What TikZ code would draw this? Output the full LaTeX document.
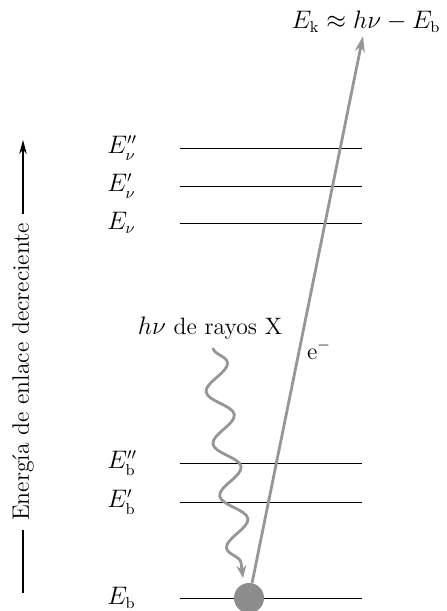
\documentclass[tikz,border=0pt]{standalone}
\usetikzlibrary{arrows.meta,decorations.pathmorphing}
\definecolor{raygray}{RGB}{150,150,150}
\definecolor{coregray}{RGB}{140,140,140}
\begin{document}
\begin{tikzpicture}[x=0.02cm, y=-0.02cm, font=\fontsize{13.5}{16}\selectfont,
  level/.style={line width=0.55pt},
  ray/.style={draw=raygray, line width=1.6pt},
  lbl/.style={anchor=west, inner sep=0pt}]
  \useasboundingbox (0,0) rectangle (446,611);
  % Energy levels
  \foreach \name/\y/\txt in {vpp/148/E''_{\nu}, vp/186/E'_{\nu}, v/223/E_{\nu},
      bpp/463/E''_{\mathrm{b}}, bp/502/E'_{\mathrm{b}}, b/598/E_{\mathrm{b}}} {
    \node[lbl] (E\name) at (107,\y) {$\txt$};
    \coordinate (L\name) at (180,\y);
    \coordinate (R\name) at (362,\y);
    \draw[level] (L\name) -- (R\name);
  }
  % Core electron and photoelectron
  \node[circle, fill=coregray, minimum size=0.6cm, inner sep=0pt] (core) at (249,598) {};
  \node (ek) at (366,22) {$E_{\mathrm{k}} \approx h\nu - E_{\mathrm{b}}$};
  \coordinate (tip) at (363,36);
  \draw[ray, -{Stealth[length=0.32cm, width=0.2cm]}] (core) -- (tip);
  \node (elec) at (319,350) {e$^-$};
  % X-ray photon
  \node (hv) at (210,328) {$h\nu$ de rayos X};
  \coordinate (xs) at (213,348);
  \coordinate (xe) at (243,578);
  \draw[ray, decorate, decoration={snake, segment length=1.05cm, amplitude=0.25cm, post length=0.3cm},
    -{Stealth[length=0.25cm, width=0.2cm]}] (xs) -- (xe);
  % Energy axis
  \node[rotate=90, inner sep=5pt] (axis) at (23,372) {Energía de enlace decreciente};
  \coordinate (abot) at (23,593);
  \coordinate (atop) at (23,140);
  \draw[line width=0.6pt] (abot) -- (axis.west);
  \draw[line width=0.6pt, -{Stealth[length=0.28cm, width=0.15cm]}] (axis.east) -- (atop);
\end{tikzpicture}
\end{document}
